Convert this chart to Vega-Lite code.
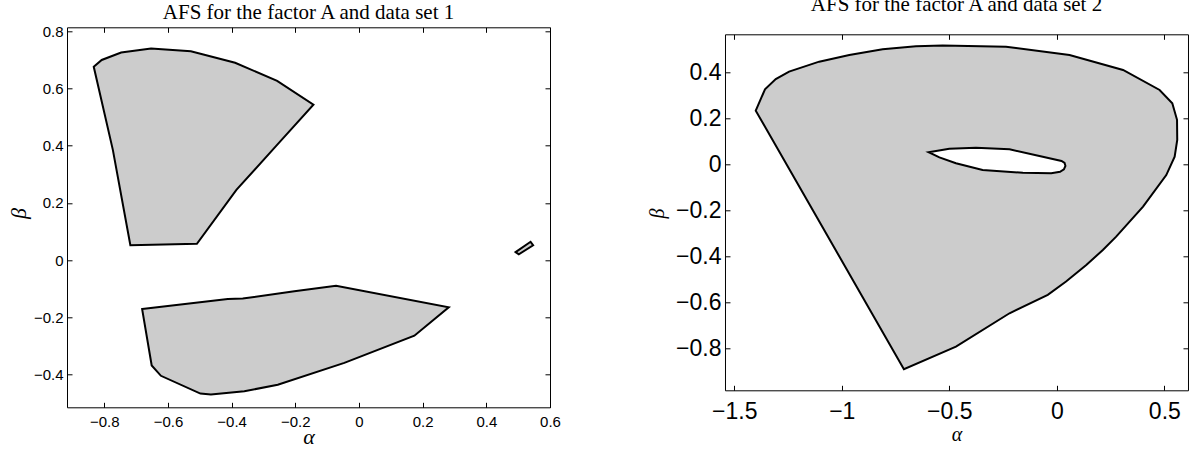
{
  "$schema": "https://vega.github.io/schema/vega-lite/v6.json",
  "background": "white",
  "padding": {"left": 6, "top": -6.7, "right": 0, "bottom": 0},
  "spacing": 86,
  "datasets": {
    "set1": [
      {"poly": "P1", "i": 1, "a": -0.833, "b": 0.675},
      {"poly": "P1", "i": 2, "a": -0.808, "b": 0.699},
      {"poly": "P1", "i": 3, "a": -0.747, "b": 0.725},
      {"poly": "P1", "i": 4, "a": -0.653, "b": 0.739},
      {"poly": "P1", "i": 5, "a": -0.528, "b": 0.729},
      {"poly": "P1", "i": 6, "a": -0.389, "b": 0.689},
      {"poly": "P1", "i": 7, "a": -0.257, "b": 0.626},
      {"poly": "P1", "i": 8, "a": -0.143, "b": 0.543},
      {"poly": "P1", "i": 9, "a": -0.26, "b": 0.399},
      {"poly": "P1", "i": 10, "a": -0.385, "b": 0.245},
      {"poly": "P1", "i": 11, "a": -0.509, "b": 0.057},
      {"poly": "P1", "i": 12, "a": -0.718, "b": 0.052},
      {"poly": "P1", "i": 13, "a": -0.773, "b": 0.385},
      {"poly": "P2", "i": 1, "a": -0.681, "b": -0.171},
      {"poly": "P2", "i": 2, "a": -0.412, "b": -0.136},
      {"poly": "P2", "i": 3, "a": -0.365, "b": -0.134},
      {"poly": "P2", "i": 4, "a": -0.203, "b": -0.109},
      {"poly": "P2", "i": 5, "a": -0.072, "b": -0.09},
      {"poly": "P2", "i": 6, "a": 0.282, "b": -0.165},
      {"poly": "P2", "i": 7, "a": 0.174, "b": -0.264},
      {"poly": "P2", "i": 8, "a": -0.046, "b": -0.359},
      {"poly": "P2", "i": 9, "a": -0.255, "b": -0.435},
      {"poly": "P2", "i": 10, "a": -0.36, "b": -0.458},
      {"poly": "P2", "i": 11, "a": -0.465, "b": -0.469},
      {"poly": "P2", "i": 12, "a": -0.498, "b": -0.466},
      {"poly": "P2", "i": 13, "a": -0.622, "b": -0.404},
      {"poly": "P2", "i": 14, "a": -0.651, "b": -0.368},
      {"poly": "P3", "i": 1, "a": 0.492, "b": 0.028},
      {"poly": "P3", "i": 2, "a": 0.502, "b": 0.02},
      {"poly": "P3", "i": 3, "a": 0.547, "b": 0.052},
      {"poly": "P3", "i": 4, "a": 0.539, "b": 0.064}
    ],
    "set2": [
      {"poly": "outer", "i": 1, "a": -1.4, "b": 0.233},
      {"poly": "outer", "i": 2, "a": -1.357, "b": 0.326},
      {"poly": "outer", "i": 3, "a": -1.307, "b": 0.37},
      {"poly": "outer", "i": 4, "a": -1.245, "b": 0.403},
      {"poly": "outer", "i": 5, "a": -1.105, "b": 0.446},
      {"poly": "outer", "i": 6, "a": -0.965, "b": 0.475},
      {"poly": "outer", "i": 7, "a": -0.81, "b": 0.5},
      {"poly": "outer", "i": 8, "a": -0.655, "b": 0.513},
      {"poly": "outer", "i": 9, "a": -0.531, "b": 0.516},
      {"poly": "outer", "i": 10, "a": -0.236, "b": 0.511},
      {"poly": "outer", "i": 11, "a": 0.059, "b": 0.475},
      {"poly": "outer", "i": 12, "a": 0.308, "b": 0.41},
      {"poly": "outer", "i": 13, "a": 0.478, "b": 0.323},
      {"poly": "outer", "i": 14, "a": 0.537, "b": 0.265},
      {"poly": "outer", "i": 15, "a": 0.559, "b": 0.193},
      {"poly": "outer", "i": 16, "a": 0.56, "b": 0.106},
      {"poly": "outer", "i": 17, "a": 0.548, "b": 0.033},
      {"poly": "outer", "i": 18, "a": 0.509, "b": -0.047},
      {"poly": "outer", "i": 19, "a": 0.401, "b": -0.184},
      {"poly": "outer", "i": 20, "a": 0.276, "b": -0.315},
      {"poly": "outer", "i": 21, "a": 0.214, "b": -0.373},
      {"poly": "outer", "i": 22, "a": 0.137, "b": -0.438},
      {"poly": "outer", "i": 23, "a": 0.043, "b": -0.51},
      {"poly": "outer", "i": 24, "a": -0.042, "b": -0.568},
      {"poly": "outer", "i": 25, "a": -0.22, "b": -0.648},
      {"poly": "outer", "i": 26, "a": -0.469, "b": -0.793},
      {"poly": "outer", "i": 27, "a": -0.711, "b": -0.891},
      {"poly": "hole", "i": 1, "a": -0.596, "b": 0.052},
      {"poly": "hole", "i": 2, "a": -0.5, "b": 0.067},
      {"poly": "hole", "i": 3, "a": -0.376, "b": 0.072},
      {"poly": "hole", "i": 4, "a": -0.22, "b": 0.065},
      {"poly": "hole", "i": 5, "a": -0.081, "b": 0.036},
      {"poly": "hole", "i": 6, "a": 0.022, "b": 0.014},
      {"poly": "hole", "i": 7, "a": 0.036, "b": 0.006},
      {"poly": "hole", "i": 8, "a": 0.04, "b": -0.007},
      {"poly": "hole", "i": 9, "a": 0.033, "b": -0.022},
      {"poly": "hole", "i": 10, "a": 0.015, "b": -0.033},
      {"poly": "hole", "i": 11, "a": -0.026, "b": -0.039},
      {"poly": "hole", "i": 12, "a": -0.158, "b": -0.037},
      {"poly": "hole", "i": 13, "a": -0.345, "b": -0.025},
      {"poly": "hole", "i": 14, "a": -0.469, "b": 0.004},
      {"poly": "hole", "i": 15, "a": -0.546, "b": 0.03}
    ]
  },
  "hconcat": [
    {
      "width": 483,
      "height": 380,
      "title": {"text": "AFS for the factor A and data set 1", "offset": 1.5},
      "data": {"name": "set1"},
      "layer": [
        {
          "mark": {"type": "line", "interpolate": "linear-closed", "fill": "#cccccc", "stroke": "black", "strokeWidth": 2},
          "encoding": {
            "x": {"field": "a", "type": "quantitative",
              "scale": {"domain": [-0.917, 0.6], "nice": false, "zero": false},
              "axis": {"orient": "bottom", "values": [-0.8, -0.6, -0.4, -0.2, 0, 0.2, 0.4, 0.6], "format": "~g",
                "labelFontSize": 15, "labelPadding": 12, "title": "α", "titleFontSize": 22,
                "titleX": 241.5, "titleY": 36, "titleBaseline": "alphabetic", "titleAnchor": null}},
            "y": {"field": "b", "type": "quantitative",
              "scale": {"domain": [-0.514, 0.813], "nice": false, "zero": false},
              "axis": {"orient": "left", "values": [-0.4, -0.2, 0, 0.2, 0.4, 0.6, 0.8], "format": "~g",
                "labelFontSize": 15, "labelPadding": 9, "title": "β", "titleFontSize": 22,
                "titleX": -49, "titleY": 185.7, "titleBaseline": "middle", "titleAngle": -90, "titleAnchor": null}},
            "detail": {"field": "poly"},
            "order": {"field": "i"}
          }
        },
        {
          "mark": {"type": "line", "interpolate": "linear-closed", "strokeOpacity": 0},
          "encoding": {
            "x": {"field": "a", "type": "quantitative",
              "scale": {"domain": [-0.917, 0.6], "nice": false, "zero": false},
              "axis": {"orient": "top", "values": [-0.8, -0.6, -0.4, -0.2, 0, 0.2, 0.4, 0.6], "labels": false, "title": null}},
            "y": {"field": "b", "type": "quantitative",
              "scale": {"domain": [-0.514, 0.813], "nice": false, "zero": false},
              "axis": {"orient": "right", "values": [-0.4, -0.2, 0, 0.2, 0.4, 0.6, 0.8], "labels": false, "title": null}},
            "detail": {"field": "poly"},
            "order": {"field": "i"}
          }
        }
      ],
      "resolve": {"axis": {"x": "independent", "y": "independent"}}
    },
    {
      "width": 463,
      "height": 363,
      "view": {"stroke": null},
      "title": {"text": "AFS for the factor A and data set 2", "offset": 12.6},
      "data": {"name": "set2"},
      "layer": [
        {
          "transform": [{"filter": "datum.poly === 'outer'"}],
          "mark": {"type": "line", "interpolate": "linear-closed", "fill": "#cccccc", "stroke": "black", "strokeWidth": 2},
          "encoding": {
            "x": {"field": "a", "type": "quantitative",
              "scale": {"domain": [-1.543, 0.61], "nice": false, "zero": false},
              "axis": {"orient": "bottom", "values": [-1.5, -1, -0.5, 0, 0.5], "format": "~g",
                "domain": true, "domainColor": "black", "domainWidth": 1,
                "labelFontSize": 23, "labelPadding": 15, "title": "α", "titleFontSize": 20,
                "titleX": 231.5, "titleY": 50, "titleBaseline": "alphabetic", "titleAnchor": null}},
            "y": {"field": "b", "type": "quantitative",
              "scale": {"domain": [-0.983, 0.565], "range": [363, 7], "nice": false, "zero": false},
              "axis": {"orient": "left", "values": [-0.8, -0.6, -0.4, -0.2, 0, 0.2, 0.4], "format": "~g",
                "domain": true, "domainColor": "black", "domainWidth": 1,
                "labelFontSize": 23, "labelPadding": 9, "title": "β", "titleFontSize": 20,
                "titleX": -67.7, "titleY": 185.7, "titleBaseline": "middle", "titleAngle": -90, "titleAnchor": null}},
            "detail": {"field": "poly"},
            "order": {"field": "i"}
          }
        },
        {
          "transform": [{"filter": "datum.poly === 'hole'"}],
          "mark": {"type": "line", "interpolate": "linear-closed", "fill": "white", "stroke": "black", "strokeWidth": 2},
          "encoding": {
            "x": {"field": "a", "type": "quantitative",
              "scale": {"domain": [-1.543, 0.61], "nice": false, "zero": false},
              "axis": {"orient": "top", "offset": -7, "values": [-1.5, -1, -0.5, 0, 0.5], "labels": false, "title": null,
                "domain": true, "domainColor": "black", "domainWidth": 1}},
            "y": {"field": "b", "type": "quantitative",
              "scale": {"domain": [-0.983, 0.565], "range": [363, 7], "nice": false, "zero": false},
              "axis": {"orient": "right", "values": [-0.8, -0.6, -0.4, -0.2, 0, 0.2, 0.4], "labels": false, "title": null,
                "domain": true, "domainColor": "black", "domainWidth": 1}},
            "detail": {"field": "poly"},
            "order": {"field": "i"}
          }
        }
      ],
      "resolve": {"axis": {"x": "independent", "y": "independent"}}
    }
  ],
  "config": {
    "view": {"stroke": "black", "strokeWidth": 1},
    "axis": {
      "domain": false, "grid": false, "tickSize": -5, "tickColor": "black", "tickWidth": 1,
      "labelFont": "Liberation Sans", "labelColor": "black", "labelFlush": false, "labelOverlap": false,
      "titleFont": "Liberation Serif", "titleFontStyle": "italic", "titleFontWeight": "normal", "titleColor": "black"
    },
    "title": {"font": "Liberation Serif", "fontSize": 21, "fontWeight": "normal", "color": "black", "anchor": "middle", "baseline": "alphabetic"}
  }
}
